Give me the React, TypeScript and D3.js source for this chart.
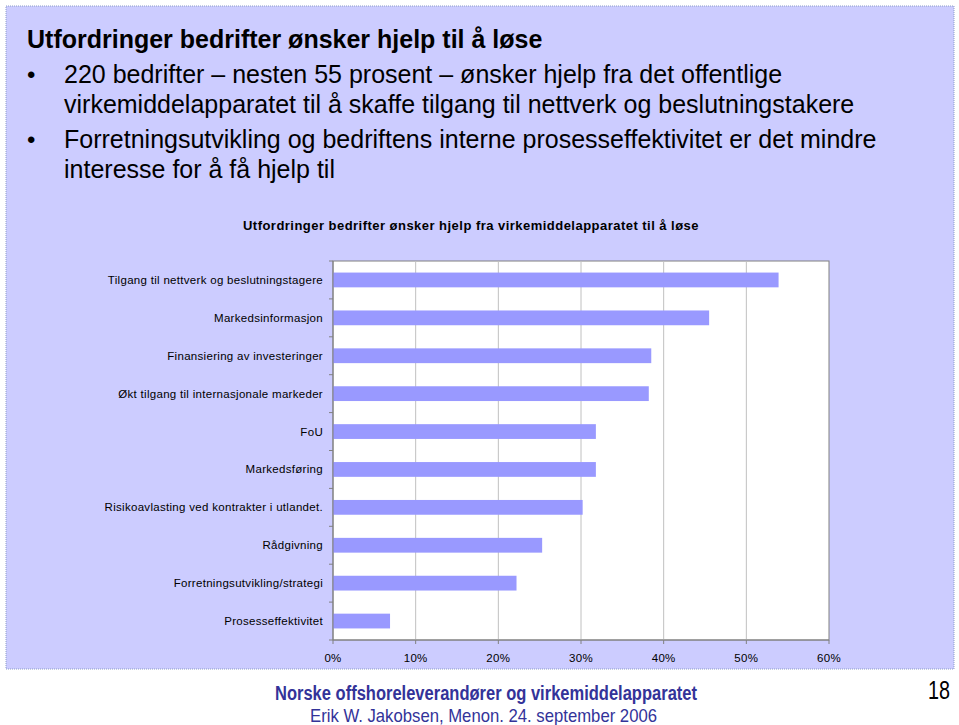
import React from "react";
import * as d3 from "d3";

const slideTitle = "Utfordringer bedrifter ønsker hjelp til å løse";
const bulletLines = [
  ["220 bedrifter – nesten 55 prosent – ønsker hjelp fra det offentlige", "virkemiddelapparatet til å skaffe tilgang til nettverk og beslutningstakere"],
  ["Forretningsutvikling og bedriftens interne prosesseffektivitet er det mindre", "interesse for å få hjelp til"],
];
const chartTitle = "Utfordringer bedrifter ønsker hjelp fra virkemiddelapparatet til å løse";
const categories = [
  "Tilgang til nettverk og beslutningstagere",
  "Markedsinformasjon",
  "Finansiering av investeringer",
  "Økt tilgang til internasjonale markeder",
  "FoU",
  "Markedsføring",
  "Risikoavlasting ved kontrakter i utlandet.",
  "Rådgivning",
  "Forretningsutvikling/strategi",
  "Prosesseffektivitet",
];
const values = [0.539, 0.455, 0.385, 0.382, 0.318, 0.318, 0.302, 0.253, 0.222, 0.069];
const xTicks = [0, 0.1, 0.2, 0.3, 0.4, 0.5, 0.6];
const footer1 = "Norske offshoreleverandører og virkemiddelapparatet";
const footer2 = "Erik W. Jakobsen, Menon. 24. september 2006";
const pageNumber = "18";

const W = 959;
const H = 725;
const plot = { left: 333, right: 829, top: 261, bottom: 640 };
const FONT = "'Liberation Sans', Arial, Helvetica, sans-serif";
const NARROW = "'Liberation Sans Narrow', 'Arial Narrow', 'Liberation Sans', sans-serif";

export default function App() {
  const x = d3.scaleLinear().domain([0, 0.6]).range([plot.left, plot.right]);
  const y = d3.scaleBand<string>().domain(categories).range([plot.top, plot.bottom]).padding(0);
  const bw = y.bandwidth();
  const barH = bw * 0.39;
  const fmt = d3.format(".0%");
  const boundaries = d3.range(categories.length + 1).map((i) => plot.top + i * bw);

  return (
    <svg width={W} height={H} style={{ position: "absolute", left: 0, top: 0, background: "#fff" }} fontFamily={FONT}>
      <rect x={6} y={6} width={948} height={663} fill="#CCCCFF" stroke="#8C9CC8" strokeWidth={1} strokeDasharray="1,1" />
      <text x={27} y={48} fontSize={25} fontWeight="bold" fill="#000">{slideTitle}</text>
      {bulletLines.map((lines, bi) => (
        <g key={bi}>
          <text x={27} y={bi === 0 ? 83 : 148} fontSize={24} fill="#000">•</text>
          {lines.map((l, li) => (
            <text key={li} x={64} y={(bi === 0 ? 83 : 148) + li * 29.5} fontSize={25} fill="#000">{l}</text>
          ))}
        </g>
      ))}
      <text x={471} y={230} textAnchor="middle" fontSize={13} fontWeight="bold" fill="#000" letterSpacing={0.47}>{chartTitle}</text>

      <rect x={plot.left} y={plot.top} width={plot.right - plot.left} height={plot.bottom - plot.top} fill="#fff" stroke="#808080" strokeWidth={1} />
      {xTicks.slice(1, -1).map((t) => (
        <line key={t} x1={x(t)} x2={x(t)} y1={plot.top} y2={plot.bottom} stroke="#C0C0C0" strokeWidth={1} />
      ))}
      {categories.map((c, i) => (
        <rect key={c} x={x(0)} y={(y(c) as number) + bw / 2 - barH / 2} width={x(values[i]) - x(0)} height={barH} fill="#9999FF" />
      ))}
      <line x1={plot.left} x2={plot.left} y1={plot.top} y2={plot.bottom} stroke="#808080" />
      <line x1={plot.left} x2={plot.right} y1={plot.bottom} y2={plot.bottom} stroke="#808080" />
      {boundaries.map((b, i) => (
        <line key={i} x1={plot.left - 4} x2={plot.left} y1={b} y2={b} stroke="#808080" />
      ))}
      {xTicks.map((t) => (
        <g key={t}>
          <line x1={x(t)} x2={x(t)} y1={plot.bottom} y2={plot.bottom + 4} stroke="#808080" />
          <text x={x(t)} y={662} textAnchor="middle" fontSize={11.5} fill="#000" letterSpacing={0.3}>{fmt(t)}</text>
        </g>
      ))}
      {categories.map((c) => (
        <text key={c} x={323} y={(y(c) as number) + bw / 2 + 4} textAnchor="end" fontSize={11.5} fill="#000" letterSpacing={0.3}>{c}</text>
      ))}

      <text x={486} y={700} textAnchor="middle" fontFamily={NARROW} fontSize={20} fontWeight="bold" fill="#333399" textLength={422} lengthAdjust="spacingAndGlyphs">{footer1}</text>
      <text x={483.5} y={722} textAnchor="middle" fontFamily={NARROW} fontSize={19} fill="#333399" textLength={347} lengthAdjust="spacingAndGlyphs">{footer2}</text>
      <text x={950} y={699} textAnchor="end" fontFamily={NARROW} fontSize={26} fill="#000" textLength={22} lengthAdjust="spacingAndGlyphs">{pageNumber}</text>
    </svg>
  );
}
